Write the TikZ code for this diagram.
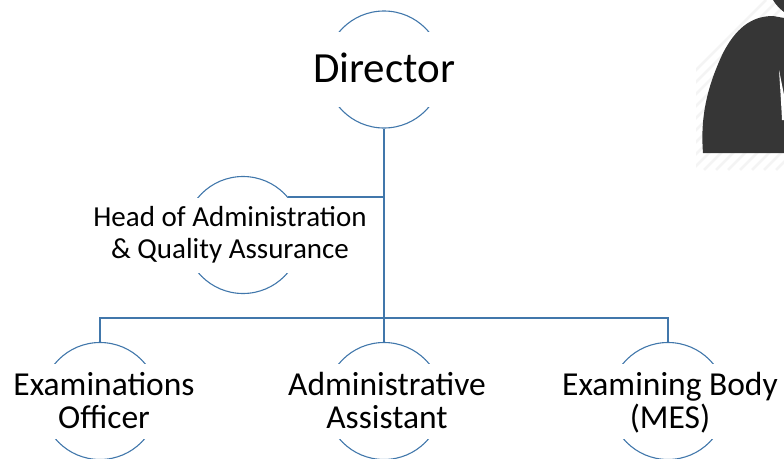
\documentclass[tikz,border=0pt]{standalone}
\usepackage{fontspec}
\setmainfont{Carlito}
\definecolor{linkblue}{RGB}{65,119,171}
\definecolor{iconfill}{RGB}{54,54,54}
\definecolor{hatchgrey}{RGB}{244,244,244}
\newcommand{\lowtop}{\rule{0pt}{32pt}}
\begin{document}
\begin{tikzpicture}[x=1pt,y=-1pt,
        circ/.style={circle, draw=linkblue, line width=1.1pt, minimum size=117pt, inner sep=0pt},
        link/.style={linkblue, line width=1.1pt},
        rolebig/.style={fill=white, align=center, inner sep=0pt, minimum height=75pt, font=\fontsize{43}{48}\selectfont, execute at end node=\rule[-4pt]{0pt}{0pt}},
        rolelow/.style={fill=white, align=center, inner sep=0pt, minimum height=75pt, font=\fontsize{33.5}{33}\selectfont, execute at end node=\strut},
        rolemid/.style={fill=white, align=center, inner sep=0pt, minimum height=75pt, font=\fontsize{29}{32}\selectfont}
                            ]
        \useasboundingbox (0,0) rectangle (784,458);
        \clip (0,0) rectangle (784,458);
        % icon
        \begin{scope}
        \clip (696,0) rectangle (784,170);
        \foreach \i in {0,12,...,276}
            \draw[hatchgrey, line width=2.5pt] (696+\i-100,170) -- (696+\i+70,0);
        \end{scope}
        \fill[iconfill] (703,153) .. controls (700,115) and (708,85) .. (723,53)
            .. controls (735,30) and (750,16) .. (773,16) -- (784,18) -- (784,153) -- cycle;
        \fill[iconfill] (773,0) .. controls (776,5) and (780,9) .. (784,12) -- (784,0) -- cycle;
        \fill[white] (779,70) .. controls (780,85) and (781,100) .. (782,120) -- (784,120) -- (784,95) -- cycle;
        % circles
        \node[circ] (director) at (384,69.5) {};
        \node[circ] (head) at (243,235) {};
        \node[circ] (examofficer) at (100,401) {};
        \node[circ] (adminasst) at (384,401) {};
        \node[circ] (exambody) at (668,401) {};
        % labels
        \node[rolebig] (directortxt) at (384,69.5) {Director};
        \node[rolemid] (headtxt) at (230,235) {Head of Administration\\\& Quality Assurance};
        \node[rolelow] (examofficertxt) at (104,401) {\lowtop Examinations\\Officer};
        \node[rolelow] (adminassttxt) at (387,401) {\lowtop Administrative\\Assistant};
        \node[rolelow] (exambodytxt) at (670,401) {\lowtop Examining Body\\(MES)};
        % connectors
        \coordinate (busmid) at (384,318);
        \draw[link] (director.south) -- (busmid);
        \draw[link] (head.40) -- (head.40 -| director.south);
        \draw[link] (examofficer.north) |- (busmid);
        \draw[link] (exambody.north) |- (busmid);
        \draw[link] (adminasst.north) -- (busmid);
    \end{tikzpicture}
\end{document}
